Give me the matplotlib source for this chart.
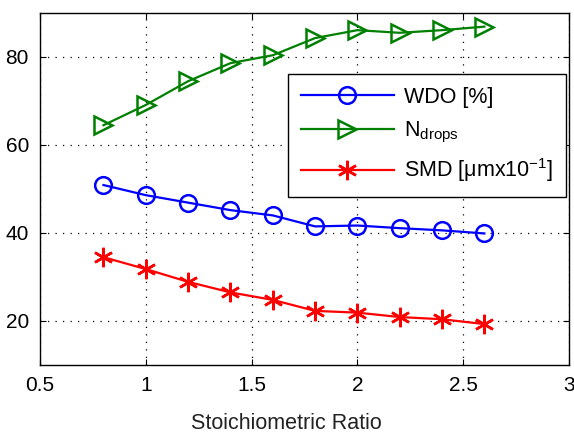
import matplotlib
matplotlib.use("Agg")
import matplotlib.pyplot as plt

plt.rcParams['font.family'] = ['Liberation Sans', 'DejaVu Sans']
plt.rcParams['mathtext.fontset'] = 'custom'
plt.rcParams['mathtext.rm'] = 'Liberation Sans'

ratio = [0.8, 1.0, 1.2, 1.4, 1.6, 1.8, 2.0, 2.2, 2.4, 2.6]
wdo = [50.9, 48.6, 46.9, 45.2, 44.0, 41.5, 41.7, 41.1, 40.6, 39.9]
ndrops = [64.5, 69.1, 74.5, 78.6, 80.4, 84.3, 86.1, 85.5, 86.1, 86.9]
smd = [34.5, 31.8, 28.9, 26.5, 24.8, 22.3, 21.9, 20.9, 20.4, 19.3]

xticks = [0.5, 1, 1.5, 2, 2.5, 3]
xticklabels = ['0.5', '1', '1.5', '2', '2.5', '3']
yticks = [20, 40, 60, 80]

fig = plt.figure(figsize=(5.74, 4.33), dpi=100)
ax = fig.add_axes([40/574, 68/433, 529/574, 352/433])

ax.plot(ratio, wdo, color='#0000ff', lw=1.6, marker='o', ms=12, mfc='none', mew=1.8, label='WDO [%]')
ax.plot(ratio, ndrops, color='#008000', lw=1.6, marker='>', ms=13, mfc='none', mew=1.8,
        label=r'N$_{\mathregular{drops}}$')
ax.plot(ratio, smd, color='#ff0000', lw=1.6, marker=(6, 2, 0), ms=14, mew=1.8,
        label=r'SMD [μmx10$^{\mathregular{-1}}$]')

ax.set_xlim(0.5, 3)
ax.set_ylim(10, 90)
ax.set_xticks(xticks)
ax.set_xticklabels(xticklabels)
ax.set_yticks(yticks)
ax.tick_params(direction='in', top=True, right=True, labelsize=15, length=4, width=0.8, pad=8)
ax.grid(True, linestyle=(0, (1, 5)), color='black', lw=0.9)
for s in ax.spines.values():
    s.set_linewidth(1.0)

ax.set_xlabel('Stoichiometric Ratio', fontsize=15.5, color='#222222')
ax.xaxis.set_label_coords(0.465, -0.137)

leg = ax.legend(loc='upper right', bbox_to_anchor=(0.995, 0.827), fontsize=15.5,
                handlelength=4.3, frameon=True, fancybox=False, framealpha=1,
                edgecolor='black', borderpad=0.6, labelspacing=0.55, handletextpad=0.5,
                borderaxespad=0)
leg.get_frame().set_linewidth(1.0)

fig.savefig('out.png', dpi=100)
